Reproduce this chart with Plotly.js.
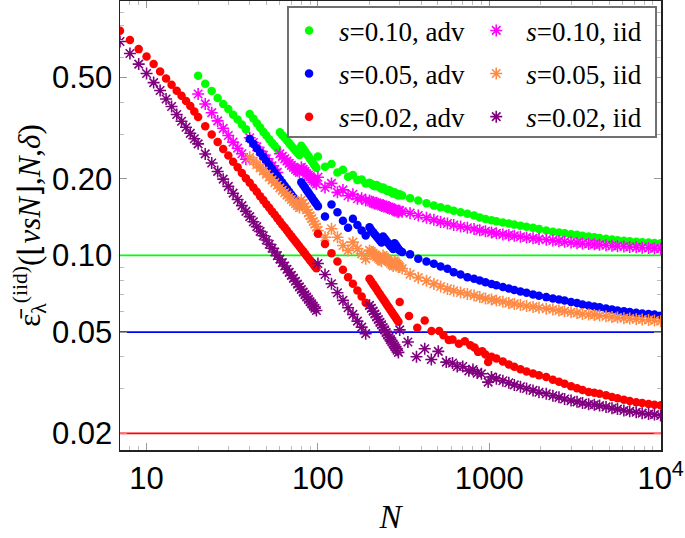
<!DOCTYPE html>
<html>
<head>
<meta charset="utf-8">
<script src="https://cdn.plot.ly/plotly-3.0.1.min.js"></script>
<style>html,body{margin:0;padding:0;background:#fff;}#chart{width:685px;height:538px;}</style>
</head>
<body>
<div id="chart"></div>
<script>
// ---- N grids ----
const N_s1 = [7,8,9,10,11,12,13,14,15,16,17,18,19,20];
const N_s2 = [22,24,26,28,30,32,34,36,38,40,42,44,46,48,50,52,54,56,58,60,62,64,66,68,70,72,74,76,78,80,82,84,86,88,90,92,94,96,98];
const N_s10 = [100,110,120,130,140,150,160,170,180,190];
const N_s5 = [200,205,210,215,220,225,230,235,240,245,250,255,260,265,270,275,280,285,290,295];
const N_tail = [300,310,345,385,430,475,520,570,620,680,745,815,880,950,1030,1100,1200,1300,1400,1520,1650,1800,1950,2150,2350,2550,2750,3000,3250,3500,3800,4100,4400,4800,5200,5600,6100,6600,7200,7800,8500,9200,10000];
const N_red_tail = [300,340,380,420,460,510,540,580,610,665,720,775,820,860,910,950,985,1030,1100,1200,1300,1400,1520,1650,1800,1950,2150,2350,2550,2750,3000,3250,3500,3800,4100,4400,4800,5200,5600,6100,6600,7200,7800,8500,9200,10000];
const N_purple_tail = [300,335,376,420,459,504,561,610,650,700,760,803,850,900,985,1030,1100,1200,1300,1400,1520,1650,1800,1950,2150,2350,2550,2750,3000,3250,3500,3800,4100,4400,4800,5200,5600,6100,6600,7200,7800,8500,9200,10000];

// ---- series values ----
const eps_g_adv = [
 .508,.473,.443,.416,.394,.376,.357,.342,.327,.313,
 .360,.345,.331,.318,.306,.296,.286,.277,.269,.262,
 .305,.297,.290,.283,.276,.270,.264,.258,.253,.248,
 .270,.2635,.257,.251,.2455,.240,.235,.2298,.225,.2205,
 .245,.223,.229,.212,.217,.204,.207,.198,.199,.192,
 .193,.191,.189,.187,.189,.187,.185,.183,.185,.183,.181,.179,.181,.179,.177,.175,.177,.175,.173,.172,
 .174,.172,.168,.1644,.1603,.157,.1548,.1525,.150,.148,.146,.1436,.141,.139,.1375,.1364,.1348,.1335,.1322,.131,.1298,.1285,.1272,.1253,.124,.1232,.1224,.1213,.1205,.1195,.1186,.1178,.1172,.1164,.1155,.1148,.1142,.1137,.1132,.1128,.1124,.112,.1117];
const eps_g_iid = [
 .431,.394,.364,.338,.316,.296,.279,.264,.251,.239,
 .290,.278,.267,.257,.248,.240,.232,.225,.218,.212,
 .251,.245,.240,.235,.230,.226,.222,.218,.215,.212,
 .222,.218,.214,.210,.207,.204,.200,.197,.194,.191,
 .203,.185,.192,.177,.181,.1717,.174,.167,.168,.1644,
 .1645,.163,.161,.1595,.161,.1595,.158,.1565,.158,.1565,.155,.1535,.155,.1535,.152,.1505,.152,.1505,.149,.1478,
 .150,.1485,.1466,.1436,.1406,.138,.1355,.1335,.1318,.130,.1285,.127,.1255,.1245,.1232,.1222,.121,.1202,.1195,.1185,.1177,.1168,.116,.1153,.1145,.1138,.1132,.1125,.112,.1115,.111,.1106,.1103,.1097,.1092,.1088,.1084,.108,.1076,.1073,.107,.1066,.1063];
const eps_b_adv = [
 .287,.2747,.2635,.2532,.2437,.2348,.2267,.219,.212,.2055,.1993,.1935,.188,.1828,.178,.1734,.169,.165,.161,.1573,
 .194,.1893,.1848,.1806,.1766,.1728,.1692,.1657,.1624,.1592,
 .156,.1423,.1585,.148,.137,.1284,.1393,.1318,.1253,.1198,
 .129,.126,.1235,.121,.1188,.1166,.1145,.1125,.1188,.1166,.1145,.1125,.111,.109,.108,.106,.1117,.1098,.108,.106,
 .1045,.1032,.101,.097,.0947,.0927,.0905,.0887,.086,.0842,.0822,.081,.0798,.0785,.0772,.0763,.0752,.0741,.0731,.0722,.0713,.0703,.0695,.0686,.0678,.0671,.0666,.0657,.065,.0642,.0636,.063,.0626,.0619,.0613,.0608,.0603,.0599,.0595,.0592,.0589,.0586,.0582];
const eps_b_iid = [
 .243,.235,.2277,.2209,.2147,.2088,.2033,.1981,.1933,.1887,.1844,.1803,.1764,.1727,.1693,.166,.1628,.1598,.1569,.1542,
 .165,.160,.1555,.1512,.147,.1432,.1395,.136,.1326,.1294,
 .1253,.118,.1274,.118,.1094,.1047,.1128,.1062,.1015,.097,
 .1047,.1035,.102,.1005,.099,.0975,.0962,.095,.100,.0985,.097,.0957,.0945,.0933,.0921,.091,.095,.0937,.0925,.0912,
 .090,.0888,.0845,.0818,.0795,.0773,.0755,.0739,.0727,.0715,.0706,.0696,.0686,.0677,.0671,.0666,.0658,.065,.0645,.0639,.0633,.0628,.0623,.0618,.0613,.0608,.0604,.0598,.0594,.0589,.0586,.0584,.0581,.0577,.0573,.057,.0567,.0565,.0562,.056,.0558,.0555,.0552];
const eps_r_adv = [
 .764,.703,.647,.605,.565,.528,.496,.469,.444,.424,.405,.387,.368,.350,
 .322,.299,.279,.262,.247,.2335,.222,.211,.201,.193,.185,.178,.171,.165,.159,.154,.149,.1445,.140,.136,.132,.1287,.1253,.122,.119,.116,.1134,.111,.1085,.106,.1038,.1017,.0996,.0977,.0958,.094,.0923,.0906,.089,
 .1216,.111,.102,.0947,.0879,.0822,.0774,.0729,.069,.0652,
 .081,.079,.0771,.0753,.0736,.0719,.0704,.0689,.0674,.0661,.0647,.0635,.0623,.0611,.060,.0589,.0578,.0568,.0558,.0549,
 .0656,.0578,.052,.0555,.0505,.0505,.0486,.0465,.0467,.045,.046,.0444,.0435,.0418,.042,.0408,.0381,.040,.0394,.0383,.0373,.0365,.0357,.035,.0344,.0338,.0333,.0325,.0319,.0313,.0306,.0301,.0296,.0291,.0289,.0286,.0282,.0278,.0275,.0271,.0268,.0265,.0263,.0261,.0259,.0258];
const eps_r_iid = [
 .693,.622,.565,.519,.478,.445,.412,.385,.358,.337,.319,.302,.2875,.2745,
 .2506,.2309,.2139,.1995,.1868,.1757,.1659,.157,.149,.1421,.1357,.1298,.1244,.1195,.115,.1107,.1068,.1032,.0998,.0967,.0937,.0909,.0883,.0858,.0835,.0813,.0792,.0772,.0753,.0735,.0718,.0702,.0687,.0672,.0658,.0645,.0632,.062,.0608,
 .093,.0842,.0774,.0714,.0666,.0623,.0587,.0552,.0523,.0493,
 .0637,.062,.0604,.0589,.0574,.056,.0546,.0534,.0521,.051,.0498,.0487,.0477,.0467,.0458,.0449,.044,.0432,.0424,.0416,
 .051,.0457,.040,.043,.039,.042,.0381,.0378,.0366,.0366,.0352,.0356,.0345,.0343,.0318,.0333,.0328,.0322,.0316,.031,.0305,.030,.0295,.029,.0286,.0281,.0277,.0273,.0269,.0266,.0263,.026,.0259,.0257,.0254,.0251,.0249,.0246,.0244,.0242,.024,.0238,.0237,.0235];

const N_g = [20].concat(N_s2, N_s10, N_s5, N_tail);
const N_b = N_s2.slice(9).concat(N_s10, N_s5, N_tail);
const N_r_adv = N_s1.concat(N_s2, N_s10, N_s5, N_red_tail);
const N_r_iid = N_s1.concat(N_s2, N_s10, N_s5, N_purple_tail);

const names = ['<i>s</i>=0.10, adv','<i>s</i>=0.10, iid','<i>s</i>=0.05, adv','<i>s</i>=0.05, iid','<i>s</i>=0.02, adv','<i>s</i>=0.02, iid'];
const colors = ['#00ff00','#ff00ff','#0000ff','#ff8a45','#ff0000','#800080'];
const refLevels = [0.1, 0.05, 0.02];
const refColors = ['#00ff00','#0000ff','#ff0000'];

const xTicks = [10,100,1000,10000];
const xTickText = ['10','100','1000','10<sup>4</sup>'];
const yTicks = [0.02,0.05,0.1,0.2,0.5];
const yTickText = ['0.02','0.05','0.10','0.20','0.50'];
const xMinor = [8,9,20,30,40,50,60,70,80,90,200,300,400,500,600,700,800,900,2000,3000,4000,5000,6000,7000,8000,9000];
const yMinor = [0.03,0.04,0.06,0.07,0.08,0.09,0.3,0.4,0.6,0.7,0.8,0.9];

const series = [
 [N_g, eps_g_adv, 'adv'], [N_g, eps_g_iid, 'iid'],
 [N_b, eps_b_adv, 'adv'], [N_b, eps_b_iid, 'iid'],
 [N_r_adv, eps_r_adv, 'adv'], [N_r_iid, eps_r_iid, 'iid']
];

const traces = series.map((s, i) => {
  const adv = s[2] === 'adv';
  return {
    x: s[0], y: s[1], type: 'scatter', mode: 'markers', name: names[i],
    legend: adv ? 'legend' : 'legend2', legendgroup: 'g' + i,
    marker: adv ? {symbol: 'circle', size: 8.5, color: colors[i]}
                : {symbol: 'asterisk-open', size: 10, color: colors[i], line: {width: 1.6, color: colors[i]}},
    cliponaxis: true
  };
});

const shapes = refLevels.map((v, i) => ({
  type: 'line', xref: 'paper', x0: 0, x1: 1, yref: 'y', y0: v, y1: v,
  line: {color: refColors[i], width: 1.8}, layer: 'below'
}));
shapes.push({type: 'rect', xref: 'paper', yref: 'paper', x0: 0.3105, x1: 0.9908, y0: 0.697, y1: 0.9866,
  line: {color: '#707070', width: 2}, fillcolor: '#ffffff', layer: 'above'});

const tickFont = {family: 'Liberation Sans, Arial, sans-serif', size: 31, color: '#000'};
const legFont = {family: 'Liberation Serif, Times New Roman, serif', size: 27, color: '#000'};

const layout = {
  width: 685, height: 538,
  margin: {l: 120, r: 24, t: 1, b: 88, pad: 0},
  paper_bgcolor: '#fff', plot_bgcolor: '#fff',
  showlegend: true,
  xaxis: {
    type: 'log', range: [Math.log10(7), 4.002], showgrid: false, zeroline: false,
    showline: true, linecolor: '#222', linewidth: 1.5, mirror: 'ticks',
    ticks: 'inside', ticklen: 7, tickwidth: 1, tickcolor: '#999',
    tickmode: 'array', tickvals: xTicks, ticktext: xTickText, tickfont: tickFont,
    minor: {tickmode: 'array', tickvals: xMinor, ticks: 'inside', ticklen: 4, tickcolor: '#bbb', showgrid: false},
    title: {text: '<i>N</i>', font: {family: 'Liberation Serif, serif', size: 33, color: '#000'}, standoff: 10}
  },
  yaxis: {
    type: 'log', range: [Math.log10(0.0172), 0], showgrid: false, zeroline: false,
    showline: true, linecolor: '#222', linewidth: 1.5, mirror: 'ticks',
    ticks: 'inside', ticklen: 7, tickwidth: 1, tickcolor: '#999',
    tickmode: 'array', tickvals: yTicks, ticktext: yTickText, tickfont: tickFont,
    minor: {tickmode: 'array', tickvals: yMinor, ticks: 'inside', ticklen: 4, tickcolor: '#bbb', showgrid: false},
    title: {text: 'ε\u0304<sub>λ</sub><sup>(iid)</sup>(⌊<i>νsN</i>⌋,<i>N</i>,<i>δ</i>)', font: {family: 'Liberation Serif, serif', size: 31, color: '#000'}, standoff: 2}
  },
  legend: {x: 0.294, y: 0.988, xanchor: 'left', yanchor: 'top', bgcolor: 'rgba(0,0,0,0)', borderwidth: 0,
           font: legFont, tracegroupgap: 5, itemwidth: 50, orientation: 'v'},
  legend2: {x: 0.640, y: 0.988, xanchor: 'left', yanchor: 'top', bgcolor: 'rgba(0,0,0,0)', borderwidth: 0,
           font: legFont, tracegroupgap: 5, itemwidth: 50, orientation: 'v'},
  shapes: shapes
};

Plotly.newPlot('chart', traces, layout, {displayModeBar: false, staticPlot: true});
</script>
</body>
</html>
